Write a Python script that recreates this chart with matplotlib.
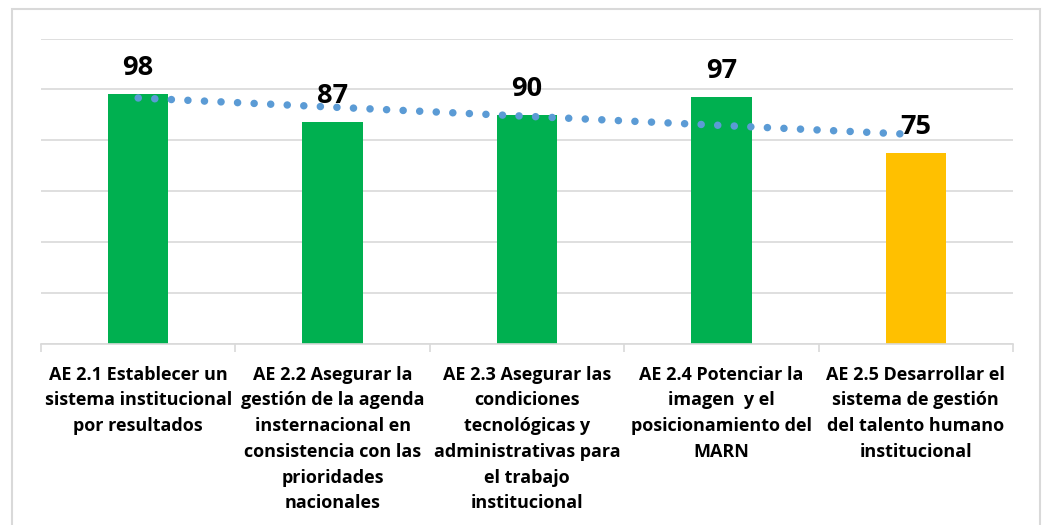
import matplotlib
matplotlib.use("Agg")
import matplotlib.pyplot as plt
import numpy as np
from matplotlib.patches import Rectangle

categories = [
    "AE 2.1 Establecer un\nsistema institucional\npor resultados",
    "AE 2.2 Asegurar la\ngestión de la agenda\ninsternacional en\nconsistencia con las\nprioridades\nnacionales",
    "AE 2.3 Asegurar las\ncondiciones\ntecnológicas y\nadministrativas para\nel trabajo\ninstitucional",
    "AE 2.4 Potenciar la\nimagen  y el\nposicionamiento del\nMARN",
    "AE 2.5 Desarrollar el\nsistema de gestión\ndel talento humano\ninstitucional",
]
values = [98, 87, 90, 97, 75]
bar_colors = ["#00B050", "#00B050", "#00B050", "#00B050", "#FFC000"]

plt.rcParams['font.family'] = ['Open Sans', 'DejaVu Sans']

fig = plt.figure(figsize=(10.43, 5.25), dpi=100)
ax = fig.add_axes([41 / 1043, 1 - 343.5 / 525, 972 / 1043, 305 / 525])

x = np.arange(len(values))
ax.bar(x, values, width=0.31, color=bar_colors, zorder=2)

# linear trendline
coef = np.polyfit(x, values, 1)
trend = np.polyval(coef, x)
ax.plot(x, trend, color="#5B9BD5", lw=5.4, linestyle=(0, (0.01, 2.2)),
        dash_capstyle='round', zorder=3)

for xi, v in zip(x, values):
    ax.annotate(str(v), (xi, v), xytext=(0, 26), textcoords='offset pixels',
                ha='center', va='center', fontsize=19.5, fontweight='bold', zorder=4)

ax.set_xlim(-0.5, len(values) - 0.5)
ax.set_ylim(0, 120)
ax.set_yticks(np.arange(0, 121, 20))
ax.yaxis.grid(True, color="#D9D9D9", lw=1.2)
ax.set_axisbelow(True)
ax.tick_params(axis='y', length=0, labelleft=False)
for s in ['top', 'right', 'left']:
    ax.spines[s].set_visible(False)
ax.spines['bottom'].set_color("#D9D9D9")
ax.spines['bottom'].set_linewidth(1.2)

ax.set_xticks(x)
ax.set_xticklabels(categories, fontsize=13, fontweight='bold', linespacing=1.55)
ax.tick_params(axis='x', length=0, pad=16)
ax.set_xticks(np.arange(-0.5, len(values)), minor=True)
ax.tick_params(axis='x', which='minor', length=6, color="#D9D9D9", width=1.2)

fig.patches.append(Rectangle((12 / 1043, -0.05), 1028 / 1043, 1.05 - 9 / 525,
                             transform=fig.transFigure, fill=False,
                             edgecolor="#D9D9D9", lw=1.5))

fig.savefig("out.png", dpi=100)
